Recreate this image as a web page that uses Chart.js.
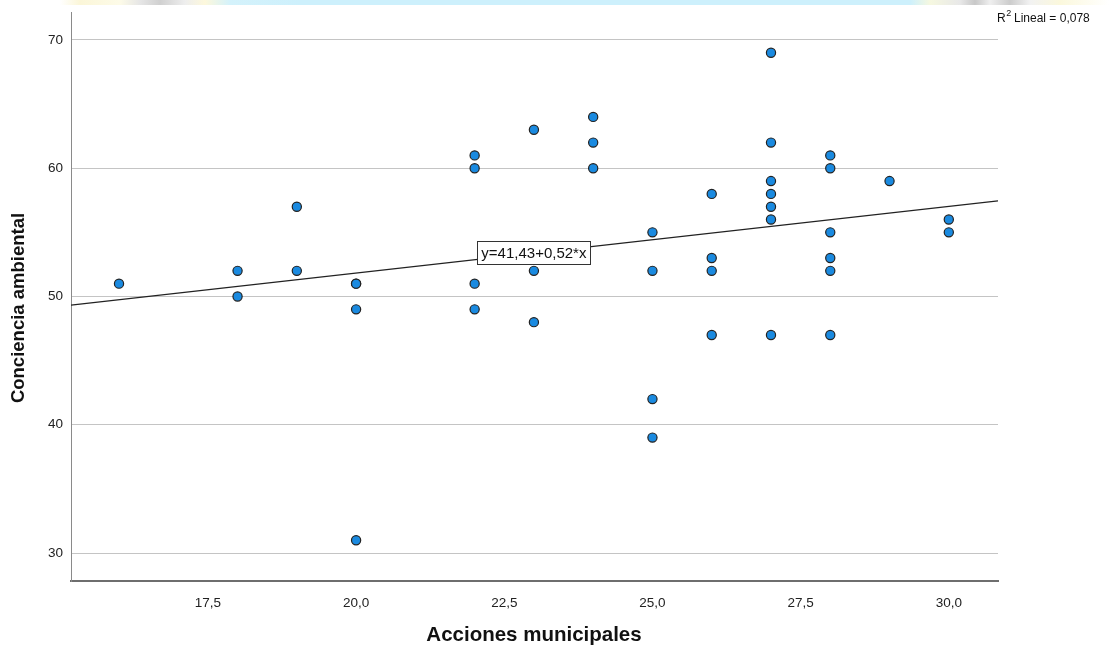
<!DOCTYPE html>
<html>
<head>
<meta charset="utf-8">
<script src="https://cdn.jsdelivr.net/npm/chart.js@4/dist/chart.umd.min.js"></script>
<style>
  html, body { margin: 0; padding: 0; background: #fff; }
  #wrap { position: relative; width: 1109px; height: 646px; }
  #band { position: absolute; left: 0; top: 0; width: 1109px; height: 5px;
    background: linear-gradient(to right, #fff 0px, #fff 60px, #fbf6d8 80px, #fdfbe8 120px, #e6e6e6 140px, #d0d0d0 160px, #eee 185px, #fdf8dc 205px, #d4f2fb 230px, #cdf0fc 300px, #cdf0fc 910px, #f6f8e0 930px, #e8e8e8 960px, #c8c8c8 975px, #efefef 990px, #cccccc 1010px, #f2f2f2 1030px, #fbf8dc 1060px, #fff 1109px); }
  canvas { position: absolute; left: 0; top: 0; }
</style>
</head>
<body>
<div id="wrap">
  <canvas id="c" width="1109" height="646"></canvas>
  <div id="band"></div>
</div>
<script>
// ---- Data ----
const accionesX = [16, 18, 18, 19, 19, 20, 20, 20, 20,
  22, 22, 22, 22, 23, 23, 23, 24, 24, 24,
  25, 25, 25, 25, 26, 26, 26, 26,
  27, 27, 27, 27, 27, 27, 27,
  28, 28, 28, 28, 28, 28, 29, 30, 30];
const concienciaY = [51, 52, 50, 57, 52, 51, 51, 49, 31,
  61, 60, 51, 49, 63, 52, 48, 64, 62, 60,
  55, 52, 42, 39, 58, 53, 52, 47,
  69, 62, 59, 58, 57, 56, 47,
  61, 60, 55, 53, 52, 47, 59, 56, 55];
const xTicks = [17.5, 20, 22.5, 25, 27.5, 30];
const yTicks = [30, 40, 50, 60, 70];
const xRange = [15.19, 30.83];
const yRange = [27.82, 72.18];
const fitIntercept = 41.43;
const fitSlope = 0.52;
const eqLabel = 'y=41,43+0,52*x';
const xTitle = 'Acciones municipales';
const yTitle = 'Conciencia ambiental';

const points = accionesX.map((x, i) => ({ x: x, y: concienciaY[i] }));
const fitLine = xRange.map(x => ({ x: x, y: fitIntercept + fitSlope * x }));

const FONT = '"Liberation Sans", Arial, sans-serif';

const overlay = {
  id: 'overlay',
  afterDraw(chart) {
    const ctx = chart.ctx;
    const xs = chart.scales.x, ys = chart.scales.y;
    ctx.save();
    // equation label box
    const ex = xs.getPixelForValue(23.0);
    const ey = ys.getPixelForValue(53.4);
    ctx.font = '15px ' + FONT;
    const w = ctx.measureText(eqLabel).width + 8;
    const h = 23;
    ctx.fillStyle = '#ffffff';
    ctx.fillRect(ex - w / 2, ey - h / 2, w, h);
    ctx.strokeStyle = '#333333';
    ctx.lineWidth = 1;
    ctx.strokeRect(Math.round(ex - w / 2) + 0.5, Math.round(ey - h / 2) + 0.5, Math.round(w), h);
    ctx.fillStyle = '#111111';
    ctx.textAlign = 'center';
    ctx.textBaseline = 'middle';
    ctx.fillText(eqLabel, ex, ey + 1);
    // R2 label
    ctx.font = '12px ' + FONT;
    ctx.textAlign = 'left';
    ctx.textBaseline = 'alphabetic';
    ctx.fillStyle = '#111111';
    ctx.fillText('R', 997, 22);
    const rw = ctx.measureText('R').width;
    ctx.font = '9px ' + FONT;
    ctx.fillText('2', 997 + rw + 0.5, 16);
    ctx.font = '12px ' + FONT;
    ctx.fillText(' Lineal = 0,078', 997 + rw + 5, 22);
    // axis titles
    ctx.fillStyle = '#111111';
    ctx.textAlign = 'center';
    ctx.textBaseline = 'middle';
    ctx.font = 'bold 20.5px ' + FONT;
    ctx.fillText(xTitle, 534, 635);
    ctx.font = 'bold 18.5px ' + FONT;
    ctx.translate(19, 308);
    ctx.rotate(-Math.PI / 2);
    ctx.fillText(yTitle, 0, 0);
    ctx.restore();
  }
};

new Chart(document.getElementById('c'), {
  type: 'scatter',
  data: {
    datasets: [
      {
        type: 'line',
        label: 'fit',
        data: fitLine,
        borderColor: '#222222',
        borderWidth: 1.3,
        pointRadius: 0,
        fill: false,
        order: 2
      },
      {
        label: 'points',
        data: points,
        backgroundColor: '#1a8ae0',
        borderColor: '#222222',
        borderWidth: 1.2,
        pointRadius: 4.6,
        pointHoverRadius: 4.6,
        order: 1
      }
    ]
  },
  options: {
    responsive: false,
    devicePixelRatio: 1,
    animation: false,
    events: [],
    layout: { padding: { top: 12, right: 111, left: 0, bottom: 0 } },
    plugins: { legend: { display: false }, tooltip: { enabled: false } },
    scales: {
      x: {
        type: 'linear',
        min: xRange[0],
        max: xRange[1],
        afterBuildTicks: s => { s.ticks = xTicks.map(v => ({ value: v })); },
        afterFit: s => { s.height = 65; s.paddingLeft = 0; s.paddingRight = 0; },
        grid: { display: false, drawTicks: false },
        border: { display: true, color: '#6e6e6e', width: 2 },
        ticks: {
          padding: 14,
          color: '#222222',
          font: { family: FONT, size: 13.5 },
          callback: v => v.toFixed(1).replace('.', ',')
        }
      },
      y: {
        type: 'linear',
        min: yRange[0],
        max: yRange[1],
        afterBuildTicks: s => { s.ticks = yTicks.map(v => ({ value: v })); },
        afterFit: s => { s.width = 71; s.paddingTop = 0; s.paddingBottom = 0; },
        grid: { display: true, color: '#c4c4c4', lineWidth: 1, drawTicks: false },
        border: { display: true, color: '#8a8a8a', width: 1 },
        ticks: {
          padding: 8,
          color: '#222222',
          font: { family: FONT, size: 13.5 },
          callback: v => String(v)
        }
      }
    }
  },
  plugins: [overlay]
});
</script>
</body>
</html>
